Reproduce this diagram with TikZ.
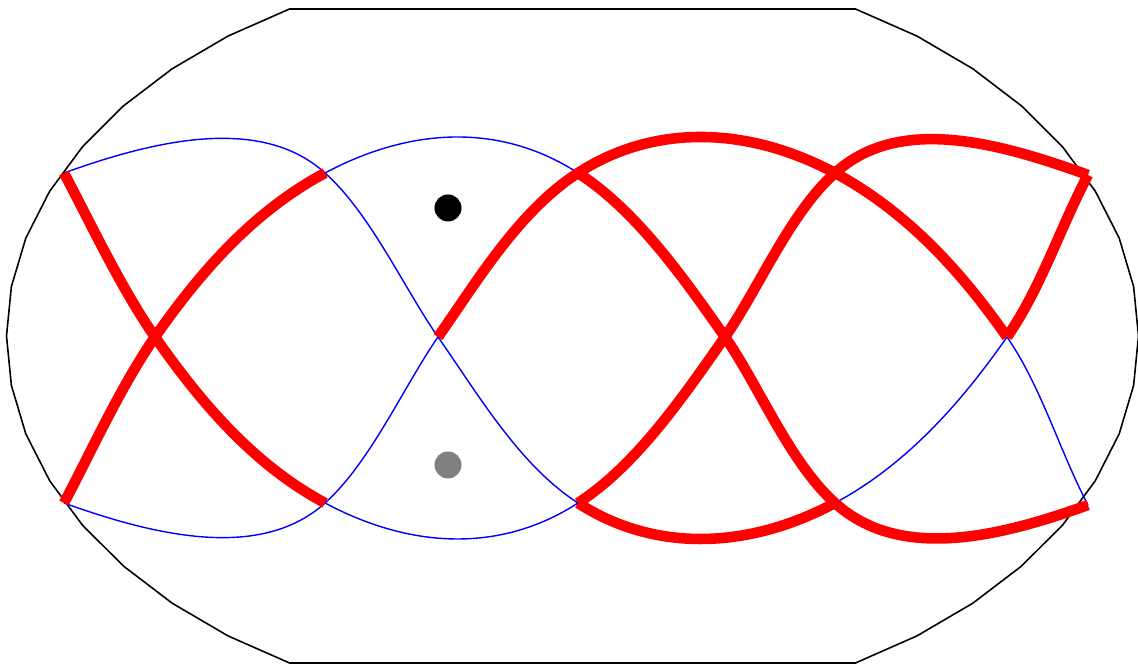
\documentclass[tikz,border=0pt]{standalone}
\usetikzlibrary{calc}
\definecolor{rimink}{HTML}{000000}
\definecolor{strandblue}{HTML}{0000FF}
\definecolor{strandred}{HTML}{FF0000}
\definecolor{puncgrey}{HTML}{808080}
\tikzset{
  rim/.style={
    draw=rimink,
    line width=0.45pt
  },
  strand/.style={
    draw=strandblue,
    line width=0.4pt
  },
  hotstrand/.style={
    draw=strandred,
    line width=3pt
  },
  puncture/.style={
    circle,
    inner sep=0pt,
    minimum size=0.27cm
  }
}
\begin{document}
\begin{tikzpicture}[x=0.01cm, y=-0.01cm]
  \useasboundingbox (0,0) rectangle (1138,665);

  % outer boundary, flattened top and bottom
  \draw[rim] plot[domain=0:360, samples=49]
    ({572.5+566*cos(\x)}, {336+max(-327,min(327,378*sin(\x)))}) -- cycle;

  \coordinate (T1) at (64,173);
  \coordinate (T2) at (325,173);
  \coordinate (T3) at (578,173);
  \coordinate (T4) at (835,173);
  \coordinate (T5) at (1088,175);
  \coordinate (B1) at (64,503);
  \coordinate (B2) at (325,503);
  \coordinate (B3) at (578,503);
  \coordinate (B4) at (835,503);
  \coordinate (B5) at (1088,505);
  \coordinate (M1) at (155,337);
  \coordinate (M2) at (438,337);
  \coordinate (M3) at (725,337);
  \coordinate (M4) at (1007,337);

  % thin strands
  \draw[strand] (T1) .. controls +(94,-34) and +(-63,-57) .. (T2);
  \draw[strand] (T2) .. controls +(90,-48) and +(-74,-48) .. (T3);
  \draw[strand] (B1) .. controls +(94,34) and +(-63,57) .. (B2);
  \draw[strand] (B2) .. controls +(90,48) and +(-74,48) .. (B3);
  \draw[strand] (T2) .. controls +(45,40) and +(-34,-49) .. (M2);
  \draw[strand] (M2) .. controls +(40,57) and +(-59,-38) .. (B3);
  \draw[strand] (B2) .. controls +(45,-40) and +(-34,49) .. (M2);
  \draw[strand] (B4) .. controls +(71,-38) and +(-46,66) .. (M4);
  \draw[strand] (M4) .. controls +(34,49) and +(-28,-53) .. (B5);

  % thick strands
  \draw[hotstrand] (T1) .. controls +(28,53) and +(-34,-49) .. (M1);
  \draw[hotstrand] (M1) .. controls +(46,66) and +(-71,-38) .. (B2);
  \draw[hotstrand] (B1) .. controls +(28,-53) and +(-34,49) .. (M1);
  \draw[hotstrand] (M1) .. controls +(46,-66) and +(-71,38) .. (T2);
  \draw[hotstrand] (M2) .. controls +(40,-57) and +(-59,38) .. (T3);
  \draw[hotstrand] (T3) .. controls +(74,-48) and +(-90,-48) .. (T4);
  \draw[hotstrand] (T4) .. controls +(63,-57) and +(-94,-34) .. (T5);
  \draw[hotstrand] (B3) .. controls +(74,48) and +(-90,48) .. (B4);
  \draw[hotstrand] (B4) .. controls +(63,57) and +(-94,34) .. (B5);
  \draw[hotstrand] (T3) .. controls +(59,38) and +(-40,-57) .. (M3);
  \draw[hotstrand] (M3) .. controls +(34,49) and +(-45,-40) .. (B4);
  \draw[hotstrand] (B3) .. controls +(59,-38) and +(-40,57) .. (M3);
  \draw[hotstrand] (M3) .. controls +(34,-49) and +(-45,40) .. (T4);
  \draw[hotstrand] (T4) .. controls +(71,38) and +(-46,-66) .. (M4);
  \draw[hotstrand] (M4) .. controls +(34,-49) and +(-28,53) .. (T5);

  \node[puncture, fill=black] (upper) at (448,208) {};
  \node[puncture, fill=puncgrey] (lower) at (448,465) {};
\end{tikzpicture}
\end{document}
